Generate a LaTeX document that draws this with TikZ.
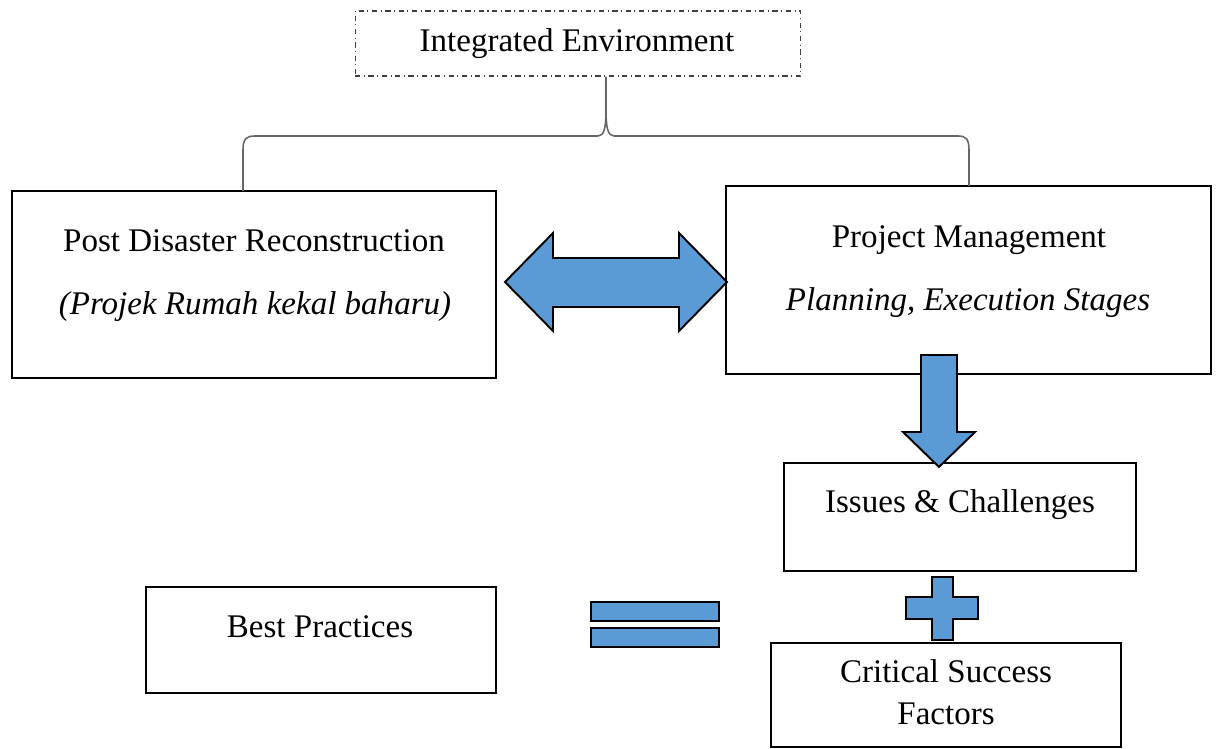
\documentclass[tikz,border=0pt]{standalone}
\usepackage{fontspec}
\setmainfont{Liberation Serif}
\definecolor{arrowblue}{HTML}{5B9BD5}
\tikzset{
  box/.style={draw, line width=1.1pt, rectangle, inner sep=0pt},
  txt/.style={anchor=base, inner sep=0pt, font=\fontsize{18.8}{22}\selectfont},
  blk/.style={draw, line width=1.1pt, fill=arrowblue, line join=miter}
}

\begin{document}
\begin{tikzpicture}[x=0.02cm, y=-0.02cm]
    \useasboundingbox (0,0) rectangle (1218,749);
    % boxes
    \node[box, draw=black!75, line width=0.6pt, dash dot, minimum width=8.92cm, minimum height=1.3cm] (ienv) at (578,43.5) {};
    \node[box, minimum width=9.68cm, minimum height=3.74cm] (pdr) at (254,284.5) {};
    \node[box, minimum width=9.7cm, minimum height=3.76cm] (pm) at (968.5,280) {};
    \node[box, minimum width=7.04cm, minimum height=2.16cm] (ic) at (960,517) {};
    \node[box, minimum width=7cm, minimum height=2.12cm] (bp) at (321,640) {};
    \node[box, minimum width=7cm, minimum height=2.08cm] (csf) at (946,695) {};

    % texts
    \node[txt] (ienvA) at (577,52) {Integrated Environment};
    \node[txt] (pdrA) at (254,252) {Post Disaster Reconstruction};
    \node[txt] (pdrB) at (255,315) {\itshape (Projek Rumah kekal baharu)};
    \node[txt] (pmA) at (969,248) {Project Management};
    \node[txt] (pmB) at (968,311) {\itshape Planning, Execution Stages};
    \node[txt] (icA) at (960,513) {Issues \& Challenges};
    \node[txt] (bpA) at (320,638) {Best Practices};
    \node[txt] (csfA) at (946,683) {Critical Success};
    \node[txt] (csfB) at (946,725) {Factors};

    % brace
    \draw[black!60, line width=0.9pt] (243,191) -- (243,150) .. controls (243,139) and (246,136) .. (255,136)
        -- (598,136) .. controls (604,136) and (606,128) .. (606,110) -- (606,77);
    \draw[black!60, line width=0.9pt] (606,110) .. controls (606,128) and (608,136) .. (614,136)
        -- (958,136) .. controls (966,136) and (969,139) .. (969,150) -- (969,186);

    % block arrows
    \draw[blk] (505,282) -- (553,233) -- (553,258) -- (679,258) -- (679,233) -- (727,282)
        -- (679,331) -- (679,307) -- (553,307) -- (553,331) -- cycle;
    \draw[blk] (921,355) -- (957,355) -- (957,432) -- (975,432) -- (939,467) -- (903,432) -- (921,432) -- cycle;
    \draw[blk] (932,577) -- (953,577) -- (953,597) -- (978,597) -- (978,619) -- (953,619) -- (953,640)
        -- (932,640) -- (932,619) -- (906,619) -- (906,597) -- (932,597) -- cycle;
    \draw[blk] (591,602) rectangle (719,621);
    \draw[blk] (591,628) rectangle (719,647);
\end{tikzpicture}
\end{document}
